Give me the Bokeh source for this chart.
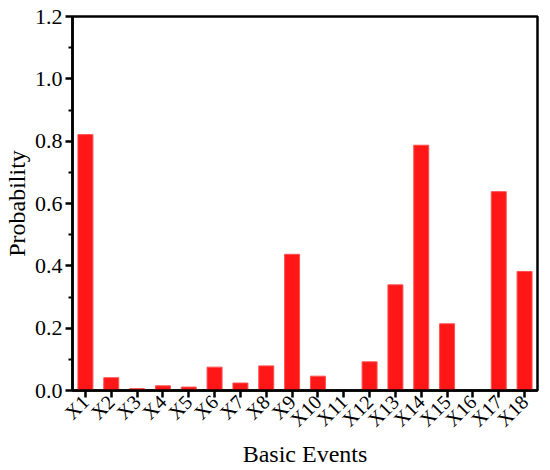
import math
from bokeh.plotting import figure
from bokeh.models import FactorRange, Range1d, ColumnDataSource, FixedTicker, PrintfTickFormatter
from bokeh.embed import file_html
from bokeh.resources import INLINE

events = ["X1", "X2", "X3", "X4", "X5", "X6", "X7", "X8", "X9", "X10",
          "X11", "X12", "X13", "X14", "X15", "X16", "X17", "X18"]
probability = [0.821, 0.041, 0.006, 0.015, 0.011, 0.075, 0.024, 0.079, 0.437, 0.046,
               0.0, 0.092, 0.339, 0.787, 0.214, 0.0, 0.638, 0.382]
y_ticks = [0.0, 0.2, 0.4, 0.6, 0.8, 1.0, 1.2]
y_minor_ticks = [0.1, 0.3, 0.5, 0.7, 0.9, 1.1]

FONT = "Liberation Serif"

src = ColumnDataSource(dict(x=events, y=probability))

p = figure(frame_width=465, frame_height=374, x_range=FactorRange(*events), y_range=Range1d(0, 1.2),
           output_backend="svg", toolbar_location=None,
           min_border_left=66, min_border_top=16, min_border_right=4, min_border_bottom=10)

p.vbar(x="x", top="y", width=0.58, source=src, fill_color="#ff1616", line_color="#ff5050", line_width=1)

p.xgrid.visible = False
p.ygrid.visible = False
p.outline_line_color = "black"
p.outline_line_width = 2.5
p.outline_line_alpha = 1
p.background_fill_color = "white"
p.border_fill_color = "white"

for ax in (p.xaxis[0], p.yaxis[0]):
    ax.axis_line_width = 2.5
    ax.axis_line_color = "black"
    ax.major_tick_line_width = 2.5
    ax.major_tick_line_color = "black"
    ax.major_tick_in = 0
    ax.major_tick_out = 7
    ax.minor_tick_line_width = 2
    ax.minor_tick_in = 0
    ax.minor_tick_out = 4
    ax.major_label_text_font = FONT
    ax.major_label_text_color = "black"
    ax.axis_label_text_font = FONT
    ax.axis_label_text_font_size = "24px"
    ax.axis_label_text_font_style = "normal"
    ax.axis_label_text_color = "black"

p.yaxis.ticker = FixedTicker(ticks=y_ticks, minor_ticks=y_minor_ticks)
p.yaxis.formatter = PrintfTickFormatter(format="%.1f")
p.yaxis.major_label_text_font_size = "22px"
p.yaxis.axis_label = "Probability"
p.yaxis.major_label_standoff = 3
p.yaxis.axis_label_standoff = 2

p.xaxis.axis_label = "Basic Events"
p.xaxis.major_label_text_font_size = "20px"
p.xaxis.major_label_orientation = math.pi / 4
p.xaxis.major_label_standoff = 1
p.xaxis.axis_label_standoff = 0
p.xaxis.group_text_font_size = "0px"

open("out.html", "w").write(file_html(p, INLINE))
